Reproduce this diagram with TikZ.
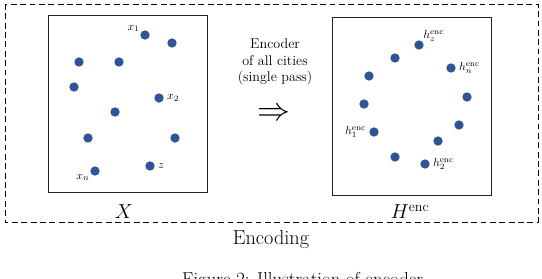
\documentclass[tikz,border=0pt]{standalone}
\usepackage{amsmath}
\usepackage{graphicx}
\usepackage{tikz}
\usetikzlibrary{positioning}
\definecolor{DotBlue}{HTML}{2F5497}
\definecolor{Frame}{HTML}{222222}

\begin{document}
\begin{tikzpicture}[x=0.03cm,y=-0.03cm,
    dot/.style={circle,fill=DotBlue,inner sep=0pt,minimum size=2.8mm},
    lbl/.style={inner sep=0.5pt,font=\normalsize},
    box/.style={draw=Frame,line width=0.7pt},
    outer/.style={draw,dashed,line width=0.7pt,dash pattern=on 5pt off 3pt}]
    \useasboundingbox (0,0) rectangle (542,278);
    \draw[outer] (5,4) rectangle (538,222);
    % input cities
    \draw[box] (48,15) rectangle (207,192);
    \node[dot] (p1) at (145,35) {};
    \node[dot] (p2) at (172,43) {};
    \node[dot] (p3) at (79,62) {};
    \node[dot] (p4) at (119,62) {};
    \node[dot] (p5) at (74,87) {};
    \node[dot] (p6) at (159,98) {};
    \node[dot] (p7) at (115,112) {};
    \node[dot] (p8) at (88,138) {};
    \node[dot] (p9) at (175,138) {};
    \node[dot] (p10) at (150,166) {};
    \node[dot] (p11) at (95,171) {};
    \node[lbl,above left=-1pt and 1pt of p1] {$x_1$};
    \node[lbl,right=2pt of p6] {$x_2$};
    \node[lbl,right=2pt of p10] {$z$};
    \node[lbl,below left=-1pt and 1pt of p11] {$x_n$};
    \node[font=\LARGE] (X) at (124,212) {$X$};
    % encoded cities
    \draw[box] (332,17) rectangle (491,195);
    \node[dot] (q1) at (419,45) {};
    \node[dot] (q2) at (395,58) {};
    \node[dot] (q3) at (451,68) {};
    \node[dot] (q4) at (369,76) {};
    \node[dot] (q5) at (467,97) {};
    \node[dot] (q6) at (364,104) {};
    \node[dot] (q7) at (374,132) {};
    \node[dot] (q8) at (459,125) {};
    \node[dot] (q9) at (438,141) {};
    \node[dot] (q10) at (395,157) {};
    \node[dot] (q11) at (425,164) {};
    \node[lbl,above right=-1pt and 0pt of q1] {$h_z^{\text{enc}}$};
    \node[lbl,right=2pt of q3] {$h_n^{\text{enc}}$};
    \node[lbl,left=2pt of q7] {$h_1^{\text{enc}}$};
    \node[lbl,right=2pt of q11] {$h_2^{\text{enc}}$};
    \node[font=\LARGE] (H) at (410,212) {$H^{\text{enc}}$};
    % encoder step
    \node[align=center,font=\fontsize{12}{14}\selectfont] (enc) at (275,62) {Encoder\\of all cities\\(single pass)};
    \node (arr) at (274,114) {\scalebox{2.8}{$\Rightarrow$}};
    \node[font=\LARGE] (lab) at (271,240) {Encoding};
    \node[anchor=base west,inner sep=0pt,font=\fontsize{16}{18}\selectfont] (cap) at (182,285) {Figure 2: Illustration of encoder.};
  \end{tikzpicture}
\end{document}
